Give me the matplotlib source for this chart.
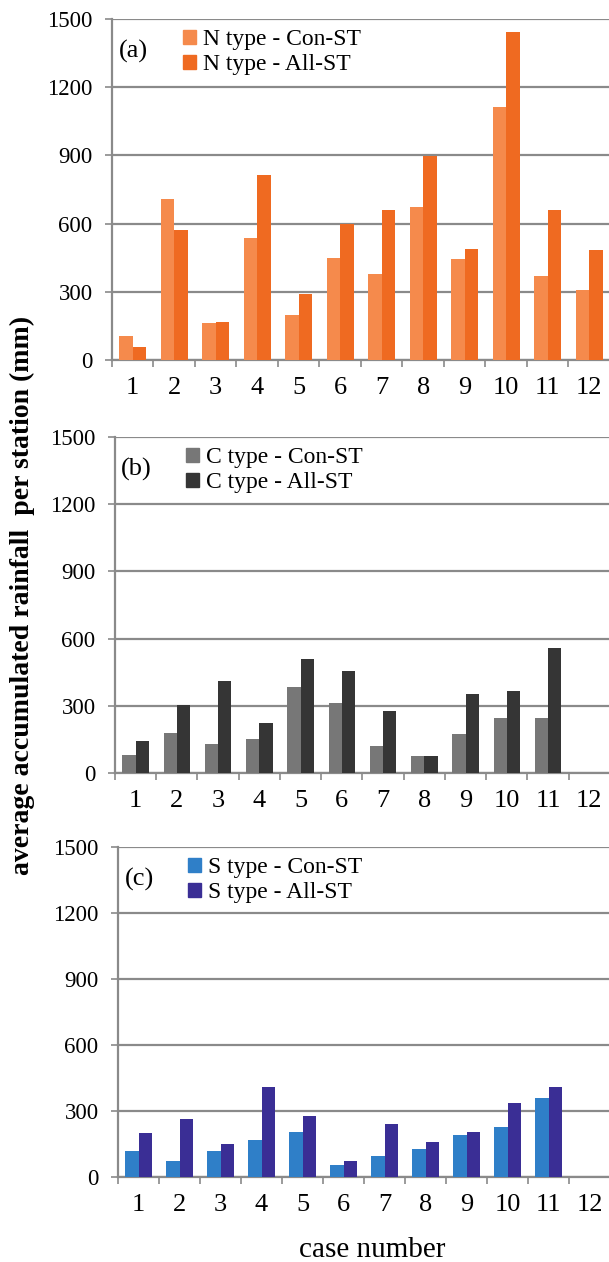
import numpy as np
import matplotlib
matplotlib.use("Agg")
import matplotlib.pyplot as plt
from matplotlib.patches import Patch

plt.rcParams['font.family'] = ['Liberation Serif', 'DejaVu Serif']

cases = list(range(1, 13))

# (a) N type
n_con = [105, 707, 164, 538, 198, 450, 380, 674, 444, 1114, 369, 308]
n_all = [59, 572, 169, 814, 289, 597, 661, 897, 490, 1444, 658, 484]

# (b) C type (no case 12)
c_con = [82, 178, 129, 153, 382, 312, 122, 77, 174, 245, 245, np.nan]
c_all = [141, 305, 409, 223, 510, 456, 279, 74, 352, 367, 557, np.nan]

# (c) S type (no case 12)
s_con = [119, 71, 116, 166, 205, 54, 97, 127, 190, 226, 359, np.nan]
s_all = [199, 263, 152, 410, 278, 74, 240, 160, 205, 335, 409, np.nan]

yticks = [0, 300, 600, 900, 1200, 1500]

# tag, type name, series, colours, axes box in pixels (left, top, bottom)
panels = [
    ("(a)", "N type", n_con, n_all, "#F58A4C", "#EF6A21", (112, 19, 360)),
    ("(b)", "C type", c_con, c_all, "#777777", "#353535", (115, 437, 773)),
    ("(c)", "S type", s_con, s_all, "#2F7FC8", "#3A2E95", (118, 847, 1177)),
]

W, H = 609, 1262
fig = plt.figure(figsize=(W / 100, H / 100), dpi=100)
grid_col = "#8A8A8A"
bw = 0.32

for tag, name, con, all_, col_con, col_all, (left, top, bottom) in panels:
    h = bottom - top
    ax = fig.add_axes([left / W, 1 - bottom / H, (W + 1 - left) / W, h / H])
    x = np.array(cases)
    ax.bar(x - bw / 2, con, bw, color=col_con, zorder=3)
    ax.bar(x + bw / 2, all_, bw, color=col_all, zorder=3)

    ax.set_xlim(0.5, 12.5)
    ax.set_ylim(0, 1500)
    ax.set_yticks(yticks)
    ax.tick_params(axis='y', labelsize=16.5, length=5, width=1.2, color=grid_col, pad=9)
    ax.set_xticks(cases)
    ax.set_xticks(np.arange(0.5, 13, 1), minor=True)
    ax.tick_params(axis='x', which='major', length=0, labelsize=19, pad=12)
    ax.tick_params(axis='x', which='minor', length=5, width=1.2, color=grid_col)
    ax.yaxis.grid(True, color=grid_col, linewidth=1.6, zorder=0)
    ax.set_axisbelow(True)
    for s in ("top", "right"):
        ax.spines[s].set_visible(False)
    for s in ("left", "bottom"):
        ax.spines[s].set_color(grid_col)
        ax.spines[s].set_linewidth(1.6)

    ax.text(0.043, 1 - 32 / h, tag, transform=ax.transAxes, fontsize=19,
            ha='center', va='center')
    handles = [Patch(color=col_con, label=f"{name} - Con-ST"),
               Patch(color=col_all, label=f"{name} - All-ST")]
    ax.legend(handles=handles, loc='upper left', bbox_to_anchor=(0.143, 1 - 10 / h),
              frameon=False, fontsize=17, handlelength=0.55, handleheight=0.55,
              handletextpad=0.3, labelspacing=0.18, borderpad=0, borderaxespad=0)

fig.text(22 / W, 1 - 595 / H, "average accumulated rainfall  per station (mm)",
         rotation=90, ha='center', va='center', fontsize=20, fontweight='bold')
fig.text(372 / W, 1 - 1250 / H, "case number", ha='center', va='center', fontsize=21)

fig.savefig("out.png", dpi=100)
